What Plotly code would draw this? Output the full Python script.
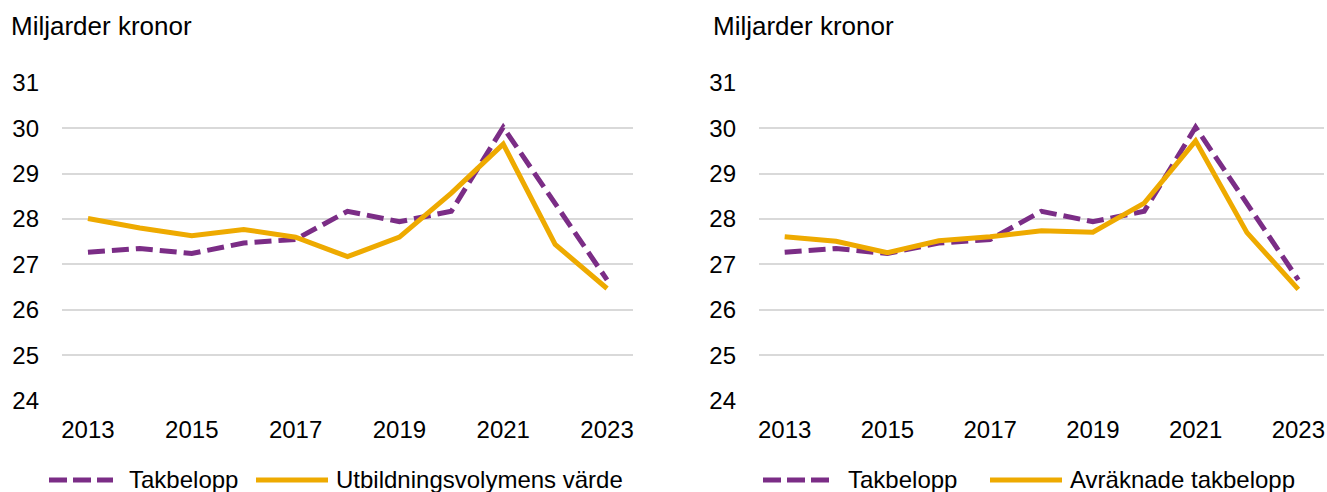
import plotly.graph_objects as go

years = list(range(2013, 2024))
takbelopp = [27.27, 27.35, 27.24, 27.47, 27.55, 28.17, 27.94, 28.17, 30.02, 28.32, 26.66]
utbildningsvolym = [28.01, 27.80, 27.63, 27.77, 27.60, 27.17, 27.60, 28.57, 29.65, 27.44, 26.47]
avraknade = [27.61, 27.51, 27.26, 27.52, 27.61, 27.74, 27.71, 28.35, 29.72, 27.70, 26.45]
y_ticks = [24, 25, 26, 27, 28, 29, 30, 31]
x_ticks = [2013, 2015, 2017, 2019, 2021, 2023]
unit_label = "Miljarder kronor"
name_tak = "Takbelopp"
name_utb = "Utbildningsvolymens värde"
name_avr = "Avräknade takbelopp"

PURPLE = "#7B2D86"
GOLD = "#EEAA00"
FONT = "Liberation Sans, Arial, sans-serif"
DASH = "17px,7px"
LW = 5

W, H = 1327, 492


def px(x):
    return x / W


def py(y):
    return (H - y) / H


fig = go.Figure()

fig.add_trace(go.Scatter(x=years, y=takbelopp, name=name_tak, mode="lines",
                         line=dict(color=PURPLE, width=LW, dash=DASH),
                         xaxis="x", yaxis="y", showlegend=False))
fig.add_trace(go.Scatter(x=years, y=utbildningsvolym, name=name_utb, mode="lines",
                         line=dict(color=GOLD, width=LW),
                         xaxis="x", yaxis="y", showlegend=False))
fig.add_trace(go.Scatter(x=years, y=takbelopp, name=name_tak, mode="lines",
                         line=dict(color=PURPLE, width=LW, dash=DASH),
                         xaxis="x2", yaxis="y2", showlegend=False))
fig.add_trace(go.Scatter(x=years, y=avraknade, name=name_avr, mode="lines",
                         line=dict(color=GOLD, width=LW),
                         xaxis="x2", yaxis="y2", showlegend=False))

ydom = [py(400.7), py(82.7)]

xcommon = dict(range=[2012.5, 2023.5], tickvals=x_ticks, showgrid=False, zeroline=False,
               showline=False, ticks="", tickfont=dict(size=24, color="#000000", family=FONT),
               ticklabelstandoff=12, automargin=False, fixedrange=True)
ycommon = dict(range=[23.999, 31.001], tickvals=y_ticks, showgrid=True, gridcolor="#D9D9D9",
               gridwidth=2, zeroline=False, showline=False, ticks="",
               tickfont=dict(size=24, color="#000000", family=FONT),
               ticklabelstandoff=22, automargin=False, fixedrange=True)

# legend entries: (label, color, dash, sample x0, sample x1, text x)
legend_items = [
    (name_tak, PURPLE, "18px,6px", 49, 113, 127),
    (name_utb, GOLD, "solid", 256, 328, 334),
    (name_tak, PURPLE, "18px,6px", 763, 830, 846),
    (name_avr, GOLD, "solid", 990, 1062, 1068),
]
LEG_Y = 480

shapes = []
annotations = [
    dict(text=unit_label, xref="paper", yref="paper", x=px(9), y=py(26),
         xanchor="left", yanchor="middle", showarrow=False,
         font=dict(size=26, family=FONT, color="#000000")),
    dict(text=unit_label, xref="paper", yref="paper", x=px(711), y=py(26),
         xanchor="left", yanchor="middle", showarrow=False,
         font=dict(size=26, family=FONT, color="#000000")),
]
for label, color, dash, x0, x1, tx in legend_items:
    shapes.append(dict(type="line", xref="paper", yref="paper", x0=px(x0), x1=px(x1),
                       y0=py(LEG_Y), y1=py(LEG_Y), line=dict(color=color, width=LW, dash=dash)))
    annotations.append(dict(text=label, xref="paper", yref="paper", x=px(tx), y=py(LEG_Y - 0.5),
                            xanchor="left", yanchor="middle", showarrow=False,
                            font=dict(size=24, family=FONT, color="#000000")))

fig.update_layout(
    width=W, height=H,
    margin=dict(l=0, r=0, t=0, b=0),
    paper_bgcolor="white", plot_bgcolor="white",
    font=dict(family=FONT, size=24, color="#000000"),
    xaxis=dict(domain=[px(62), px(633)], anchor="y", **xcommon),
    yaxis=dict(domain=ydom, anchor="x", **ycommon),
    xaxis2=dict(domain=[px(759), px(1324)], anchor="y2", **xcommon),
    yaxis2=dict(domain=ydom, anchor="x2", **ycommon),
    showlegend=False,
    shapes=shapes,
    annotations=annotations,
)

fig.write_html("out.html", config={"displayModeBar": False},
               post_script="document.body.style.margin='0';document.body.style.overflow='hidden';")
